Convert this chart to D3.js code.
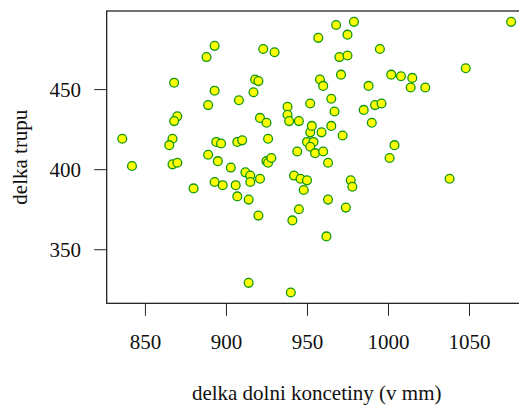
<!DOCTYPE html>
<html lang="en">
<head>
  <meta charset="UTF-8" />
  <title>delka trupu vs delka dolni koncetiny</title>
  <script src="https://d3js.org/d3.v7.min.js"></script>
  <style>
    body {
      margin: 0;
      padding: 0;
      background: #fff;
    }
    text {
      font-family: "Liberation Serif", "Times New Roman", serif;
      fill: #111;
    }
  </style>
</head>
<body>

<div id="chart"></div>

<script>
  // delka dolni koncetiny (v mm)
  const legLength = [
    893, 888, 923, 930, 868, 893, 918, 920, 917, 908,
    889, 938, 938, 939, 945, 952, 921, 925, 870, 868,
    836, 867, 865, 894, 897, 907, 910, 926, 944, 950,
    952, 953, 889, 968, 979, 957, 975, 970, 975, 995,
    971, 958, 960, 988, 965, 967, 985, 992, 996, 990,
    965, 959, 972, 954, 952, 955, 960, 963, 1076, 1048,
    1002, 1008, 1015, 1014, 1023, 1004, 1001, 1038, 925, 926,
    928, 912, 915, 915, 921, 914, 920, 942, 946, 950,
    948, 977, 978, 963, 974, 945, 941, 962, 914, 940,
    842, 867, 870, 895, 903, 893, 898, 906, 880, 907
  ];

  // delka trupu
  const trunkLength = [
    477, 470, 475, 473, 454, 449, 456, 455, 448, 443,
    440, 439, 434, 430, 430, 441, 432, 429, 433, 430,
    419, 419, 415, 417, 416, 417, 418, 419, 411, 417,
    423, 427, 409, 490, 492, 482, 484, 470, 471, 475,
    459, 456, 452, 452, 444, 436, 437, 440, 441, 429,
    427, 423, 421, 417, 414, 410, 411, 404, 492, 463,
    459, 458, 457, 451, 451, 415, 407, 394, 405, 404,
    407, 398, 396, 392, 394, 381, 371, 396, 394, 393,
    387, 393, 389, 381, 376, 375, 368, 358, 329, 323,
    402, 403, 404, 405, 401, 392, 390, 390, 388, 383
  ];

  const xTicks = [850, 900, 950, 1000, 1050];
  const yTicks = [350, 400, 450];

  const width = 519;
  const height = 405;

  // plot region (R style, right side runs past the window)
  const plot = { left: 106.7, top: 11, right: 526.7, bottom: 303.3 };
  const tickLen = 12.5;
  const fontSize = 21;
  const serif = "'Liberation Serif', 'Times New Roman', serif";

  const svg = d3.select("#chart")
    .append("svg")
    .attr("width", width)
    .attr("height", height);

  // R pads the data range by 4% each side
  function padded(vals) {
    const [lo, hi] = d3.extent(vals);
    const pad = (hi - lo) * 0.04;
    return [lo - pad, hi + pad];
  }

  const x = d3.scaleLinear()
    .domain(padded(legLength))
    .range([plot.left, plot.right]);

  const y = d3.scaleLinear()
    .domain(padded(trunkLength))
    .range([plot.bottom, plot.top]);

  // x axis
  const xAxis = svg.append("g")
    .attr("transform", `translate(0,${plot.bottom})`)
    .attr("font-family", serif)
    .call(d3.axisBottom(x).tickValues(xTicks).tickFormat(d3.format("d"))
      .tickSize(tickLen).tickSizeOuter(0));
  xAxis.select(".domain").remove();
  xAxis.selectAll(".tick line").attr("stroke", "#222").attr("stroke-width", 1);
  xAxis.selectAll(".tick text")
    .attr("y", 46)
    .attr("dy", 0)
    .style("font-size", fontSize + "px")
    .attr("fill", "#111");

  // y axis
  const yAxis = svg.append("g")
    .attr("transform", `translate(${plot.left},0)`)
    .attr("font-family", serif)
    .call(d3.axisLeft(y).tickValues(yTicks).tickFormat(d3.format("d"))
      .tickSize(tickLen).tickSizeOuter(0));
  yAxis.select(".domain").remove();
  yAxis.selectAll(".tick line").attr("stroke", "#222").attr("stroke-width", 1);
  yAxis.selectAll(".tick text")
    .attr("x", -25.7)
    .attr("dy", 7.3)
    .style("font-size", fontSize + "px")
    .attr("fill", "#111");

  // box
  svg.append("rect")
    .attr("x", plot.left)
    .attr("y", plot.top)
    .attr("width", plot.right - plot.left)
    .attr("height", plot.bottom - plot.top)
    .attr("fill", "none")
    .attr("stroke", "#111")
    .attr("stroke-width", 1.2);

  // points
  const data = legLength.map((v, i) => ({ leg: v, trunk: trunkLength[i] }));

  svg.append("g")
    .selectAll("circle")
    .data(data)
    .enter()
    .append("circle")
    .attr("cx", d => x(d.leg))
    .attr("cy", d => y(d.trunk))
    .attr("r", 4.4)
    .attr("fill", "#ffff00")
    .attr("stroke", "#119611")
    .attr("stroke-width", 1.3);

  // axis titles
  svg.append("text")
    .attr("x", (plot.left + plot.right) / 2)
    .attr("y", 399.5)
    .attr("text-anchor", "middle")
    .style("font-size", fontSize + "px")
    .text("delka dolni koncetiny (v mm)");

  svg.append("text")
    .attr("transform", `translate(26.5,${(plot.top + plot.bottom) / 2}) rotate(-90)`)
    .attr("text-anchor", "middle")
    .style("font-size", fontSize + "px")
    .text("delka trupu");
</script>
</body>
</html>
